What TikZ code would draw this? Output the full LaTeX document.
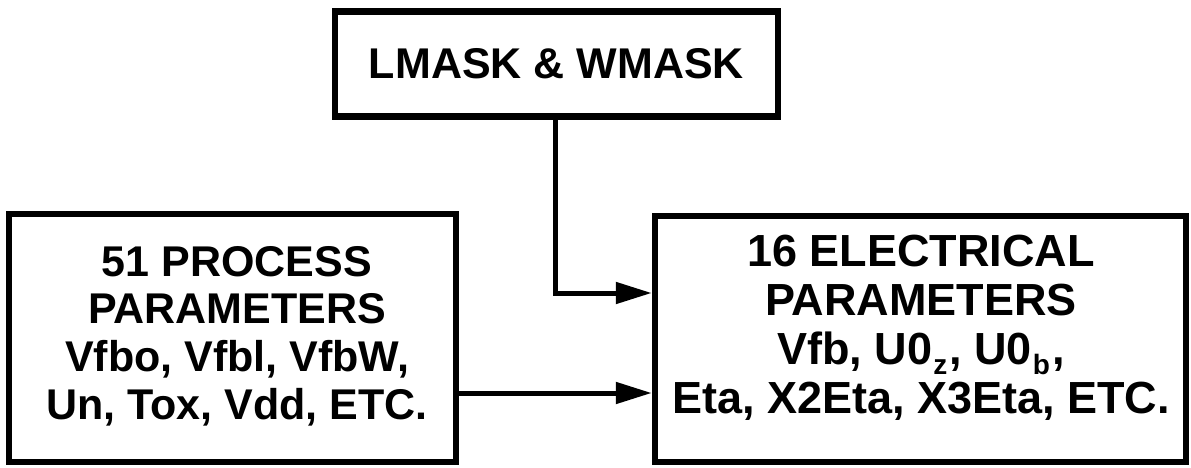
\documentclass[tikz,border=0pt]{standalone}
\usepackage{fontspec}
\setmainfont{Liberation Sans}
\usetikzlibrary{arrows.meta}
\newcommand{\subb}[1]{\kern1pt\raisebox{-0.22em}{\fontsize{28}{28}\selectfont #1}\kern2pt}
\tikzset{
  box/.style={draw, line width=6.5pt, inner sep=0pt},
  lbl/.style={inner sep=0pt, align=center, font=\bfseries},
  arr/.style={line width=5pt, -{Triangle[length=36pt,width=21pt]}}
}
\begin{document}
\begin{tikzpicture}[x=1pt,y=-1pt]
\useasboundingbox (0,0) rectangle (1191,468);
\node[box, lbl, font=\fontsize{43}{48}\selectfont\bfseries,
  minimum width=443pt, minimum height=105pt] (top) at (556.5,64) {LMASK \& WMASK};
\node[box, minimum width=447pt, minimum height=248pt] (left) at (232.5,338) {};
\node[box, minimum width=531pt, minimum height=246pt] (right) at (920.5,339) {};
\node[lbl, font=\fontsize{43}{47.7}\selectfont\bfseries] (ltext) at (237,336)
  {51 PROCESS\\PARAMETERS\\Vfbo, Vfbl, VfbW,\\Un, Tox, Vdd, ETC.};
\node[lbl, font=\fontsize{45}{49}\selectfont\bfseries] (rtext) at (921,328)
  {16 ELECTRICAL\\PARAMETERS\\Vfb, U0\subb{z}, U0\subb{b},\\Eta, X2Eta, X3Eta, ETC.};
\coordinate (bend) at (555,293);
\coordinate (low) at (0,393);
\draw[arr] (top.south -| bend) -- (bend) -- (right.west |- bend);
\draw[arr] (left.east |- low) -- (right.west |- low);
\end{tikzpicture}
\end{document}
